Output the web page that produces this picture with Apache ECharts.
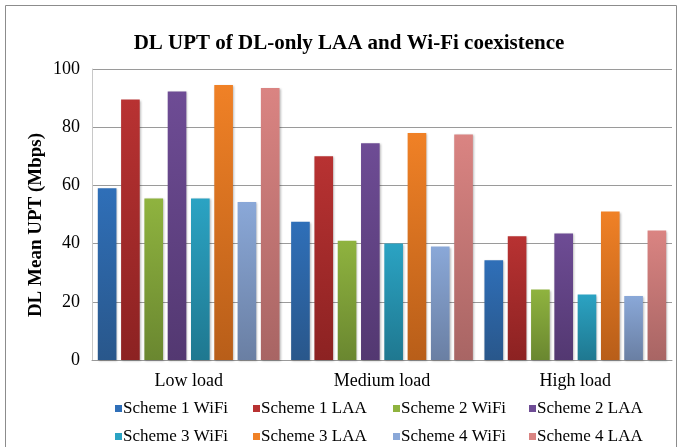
<!DOCTYPE html>
<html><head><meta charset="utf-8">
<script src="https://cdn.jsdelivr.net/npm/echarts@6/dist/echarts.min.js"></script>
<style>html,body{margin:0;padding:0;background:#fff}#c{width:679px;height:447px}</style>
</head><body><div id="c"></div>
<script>
const categories = ['Low load', 'Medium load', 'High load'];
const seriesNames = ['Scheme 1 WiFi','Scheme 1 LAA','Scheme 2 WiFi','Scheme 2 LAA','Scheme 3 WiFi','Scheme 3 LAA','Scheme 4 WiFi','Scheme 4 LAA'];
const s1wifi = [59, 47.5, 34.3];
const s1laa  = [89.5, 70, 42.5];
const s2wifi = [55.5, 41, 24.2];
const s2laa  = [92.3, 74.5, 43.5];
const s3wifi = [55.5, 40, 22.5];
const s3laa  = [94.5, 78, 51];
const s4wifi = [54.3, 39, 22];
const s4laa  = [93.5, 77.5, 44.5];
const values = [s1wifi, s1laa, s2wifi, s2laa, s3wifi, s3laa, s4wifi, s4laa];
const yTicks = [0, 20, 40, 60, 80, 100];
const colorsTop = ['#2f6fb8','#b83232','#8fb33f','#6e4c95','#2ba3c3','#f08126','#8aa8d8','#da8482'];
const colorsBot = ['#29578b','#8c2222','#6a8730','#533871','#1f7890','#b85e19','#6a7fa3','#a86564'];

const font = '"Liberation Serif", "Times New Roman", serif';
const series = seriesNames.map((n, i) => ({
  name: n, type: 'bar', data: values[i],
  barGap: '25%', barCategoryGap: '6%',
  itemStyle: {
    color: new echarts.graphic.LinearGradient(0,0,0,1,[{offset:0,color:colorsTop[i]},{offset:1,color:colorsBot[i]}]),
    shadowBlur: 2, shadowColor: 'rgba(0,0,0,0.25)', shadowOffsetX: 1, shadowOffsetY: 1
  }
}));
const legendCols = [115, 253, 393, 529];
const legendRows = [400, 428];
const legends = seriesNames.map((n, i) => ({
  data: [{ name: n, itemStyle: { color: colorsTop[i] } }],
  left: legendCols[i % 4] - 5, top: legendRows[Math.floor(i / 4)] - 5,
  itemWidth: 7, itemHeight: 7, icon: 'rect', padding: 5,
  textStyle: { fontFamily: font, fontSize: 17, color: '#000', padding: [0,0,0,-4] }
}));
const chart = echarts.init(document.getElementById('c'));
chart.setOption({
  animation: false,
  title: { text: 'DL UPT of DL-only LAA and Wi-Fi coexistence', left: 344, top: 28, textAlign: 'center',
    textStyle: { fontFamily: font, fontSize: 21, fontWeight: 'bold', color: '#000' } },
  graphic: [
    { type: 'rect', shape: { x: 5.5, y: 5.5, width: 671, height: 450 }, style: { fill: 'none', stroke: '#8c8c8c', lineWidth: 1 } },
    { type: 'text', x: 36, y: 225, rotation: Math.PI / 2,
      style: { text: 'DL Mean UPT (Mbps)', align: 'center', verticalAlign: 'middle', font: 'bold 19px ' + font, fill: '#000' } }
  ],
  legend: legends,
  grid: { left: 92, right: 7, top: 69, bottom: 87 },
  xAxis: { type: 'category', data: categories,
    axisLine: { lineStyle: { color: '#9a9a9a' } }, axisTick: { show: false },
    axisLabel: { fontFamily: font, fontSize: 18, color: '#000', margin: 12 } },
  yAxis: { type: 'value', min: 0, max: 100, interval: 20,
    axisLine: { show: true, lineStyle: { color: '#c8c8c8' } }, axisTick: { show: false },
    axisLabel: { fontFamily: font, fontSize: 18, color: '#000', margin: 12,
      formatter: v => yTicks.includes(v) ? String(v) : '' },
    splitLine: { lineStyle: { color: '#9a9a9a', width: 1 } } },
  series
});
</script></body></html>
